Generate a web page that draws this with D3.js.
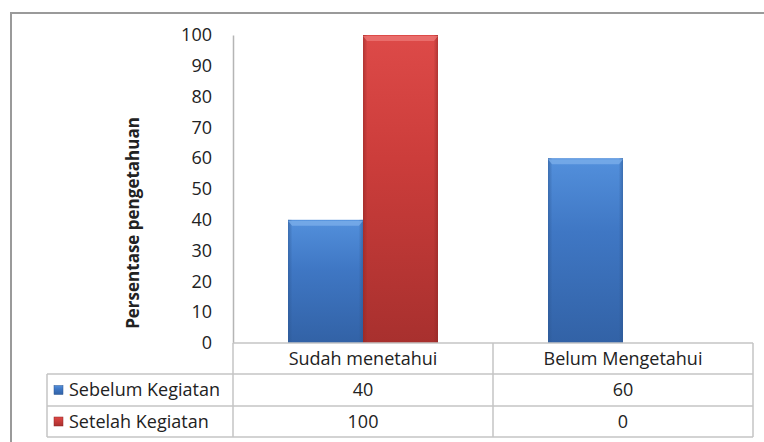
<!DOCTYPE html>
<html><head><meta charset="utf-8">
<script src="https://cdn.jsdelivr.net/npm/d3@7"></script>
<style>html,body{margin:0;padding:0;background:#fff;}svg{display:block;}</style>
</head><body>
<svg id="c" width="764" height="442"></svg>
<script>
const categories = ["Sudah menetahui", "Belum Mengetahui"];
const seriesNames = ["Sebelum Kegiatan", "Setelah Kegiatan"];
const sebelum = [40, 60];
const setelah = [100, 0];
const yTicks = [0, 10, 20, 30, 40, 50, 60, 70, 80, 90, 100];
const yTitle = "Persentase pengetahuan";

const seriesValues = [sebelum, setelah];
const colors = [
  {top: "#5390dc", mid: "#3f77c4", bot: "#3262a6", edge: "#2c5690", hi: "#7aaeea"},
  {top: "#dd4a48", mid: "#cc3d3b", bot: "#a8302e", edge: "#8e2624", hi: "#ec7674"}
];

const svg = d3.select("#c");
const font = "'Open Sans', sans-serif";

// outer frame
svg.append("rect").attr("x", 11).attr("y", 13).attr("width", 800).attr("height", 500)
  .attr("fill", "none").attr("stroke", "#9a9a9a").attr("stroke-width", 2);

const x0 = d3.scaleBand().domain(categories).range([233, 753]);
const x1 = d3.scaleBand().domain(seriesNames).range([55, 205]);
const y = d3.scaleLinear().domain([0, 100]).range([343, 35]);

// defs gradients
const defs = svg.append("defs");
colors.forEach((c, i) => {
  const g = defs.append("linearGradient").attr("id", "g" + i).attr("x1", 0).attr("y1", 0).attr("x2", 0).attr("y2", 1);
  g.append("stop").attr("offset", "0%").attr("stop-color", c.top);
  g.append("stop").attr("offset", "40%").attr("stop-color", c.mid);
  g.append("stop").attr("offset", "100%").attr("stop-color", c.bot);
  const h = defs.append("linearGradient").attr("id", "h" + i).attr("x1", 0).attr("y1", 0).attr("x2", 1).attr("y2", 0);
  h.append("stop").attr("offset", "0%").attr("stop-color", c.edge).attr("stop-opacity", 0.55);
  h.append("stop").attr("offset", "6%").attr("stop-color", c.edge).attr("stop-opacity", 0);
  h.append("stop").attr("offset", "94%").attr("stop-color", c.edge).attr("stop-opacity", 0);
  h.append("stop").attr("offset", "100%").attr("stop-color", c.edge).attr("stop-opacity", 0.55);
});

// y axis
const yAxis = d3.axisLeft(y).tickValues(yTicks).tickSize(0).tickPadding(21);
const ya = svg.append("g").attr("transform", "translate(233,0)").call(yAxis);
ya.select(".domain").attr("stroke", "#b5b5b5").attr("stroke-width", 1.5);
ya.selectAll("text").attr("font-family", font).attr("font-size", 18).attr("fill", "#222");

// y title
svg.append("text").attr("transform", "translate(139,223) rotate(-90)")
  .attr("text-anchor", "middle").attr("font-family", font).attr("font-weight", "bold")
  .attr("font-size", 17).attr("fill", "#222").text(yTitle);

// bars
const groups = svg.append("g").selectAll("g").data(categories).join("g")
  .attr("transform", d => `translate(${x0(d)},0)`);
seriesNames.forEach((s, si) => {
  const data = categories.map((c, ci) => ({c, v: seriesValues[si][ci]})).filter(d => d.v > 0);
  const g = groups.filter(c => data.some(d => d.c === c));
  g.each(function(c) {
    const d = data.find(e => e.c === c);
    const gg = d3.select(this);
    const bx = x1(s), bw = x1.bandwidth(), by = y(d.v), bh = y(0) - y(d.v);
    gg.append("rect").attr("x", bx).attr("y", by).attr("width", bw).attr("height", bh).attr("fill", `url(#g${si})`);
    gg.append("rect").attr("x", bx).attr("y", by).attr("width", bw).attr("height", bh).attr("fill", `url(#h${si})`);
    gg.append("path").attr("d", `M${bx},${by + 1} L${bx + 4},${by + 6} L${bx + bw - 4},${by + 6} L${bx + bw},${by + 1} Z`)
      .attr("fill", colors[si].hi).attr("opacity", 0.8);
  });
});

// data table
const lineColor = "#c4c4c4";
const tableLeft = 47, rowTops = [343, 374, 406, 437];
const lines = svg.append("g").attr("stroke", lineColor).attr("stroke-width", 1.5);
lines.append("line").attr("x1", 233).attr("x2", 753).attr("y1", y(0)).attr("y2", y(0));
[1, 2, 3].forEach(r => lines.append("line").attr("x1", tableLeft).attr("x2", 753).attr("y1", rowTops[r]).attr("y2", rowTops[r]));
lines.append("line").attr("x1", tableLeft).attr("x2", tableLeft).attr("y1", rowTops[1]).attr("y2", rowTops[3]);
lines.append("line").attr("x1", 233).attr("x2", 233).attr("y1", y(0)).attr("y2", rowTops[3]);
categories.forEach(c => {
  lines.append("line").attr("x1", x0(c) + x0.bandwidth()).attr("x2", x0(c) + x0.bandwidth()).attr("y1", y(0)).attr("y2", rowTops[3]);
});

// category labels
svg.append("g").selectAll("text").data(categories).join("text")
  .attr("x", d => x0(d) + x0.bandwidth() / 2).attr("y", (rowTops[0] + rowTops[1]) / 2 + 6)
  .attr("text-anchor", "middle").attr("font-family", font).attr("font-size", 18).attr("fill", "#222").text(d => d);

// series rows
seriesNames.forEach((s, si) => {
  const cy = (rowTops[si + 1] + rowTops[si + 2]) / 2;
  const sw = svg.append("g");
  sw.append("rect").attr("x", 54).attr("y", cy - 4.5).attr("width", 9).attr("height", 9).attr("fill", `url(#g${si})`)
    .attr("stroke", colors[si].edge).attr("stroke-width", 0.5);
  svg.append("text").attr("x", 69).attr("y", cy + 6).attr("font-family", font).attr("font-size", 18)
    .attr("fill", "#222").text(s);
  categories.forEach((c, ci) => {
    svg.append("text").attr("x", x0(c) + x0.bandwidth() / 2).attr("y", cy + 6).attr("text-anchor", "middle")
      .attr("font-family", font).attr("font-size", 18).attr("fill", "#222").text(seriesValues[si][ci]);
  });
});
</script>
</body></html>
